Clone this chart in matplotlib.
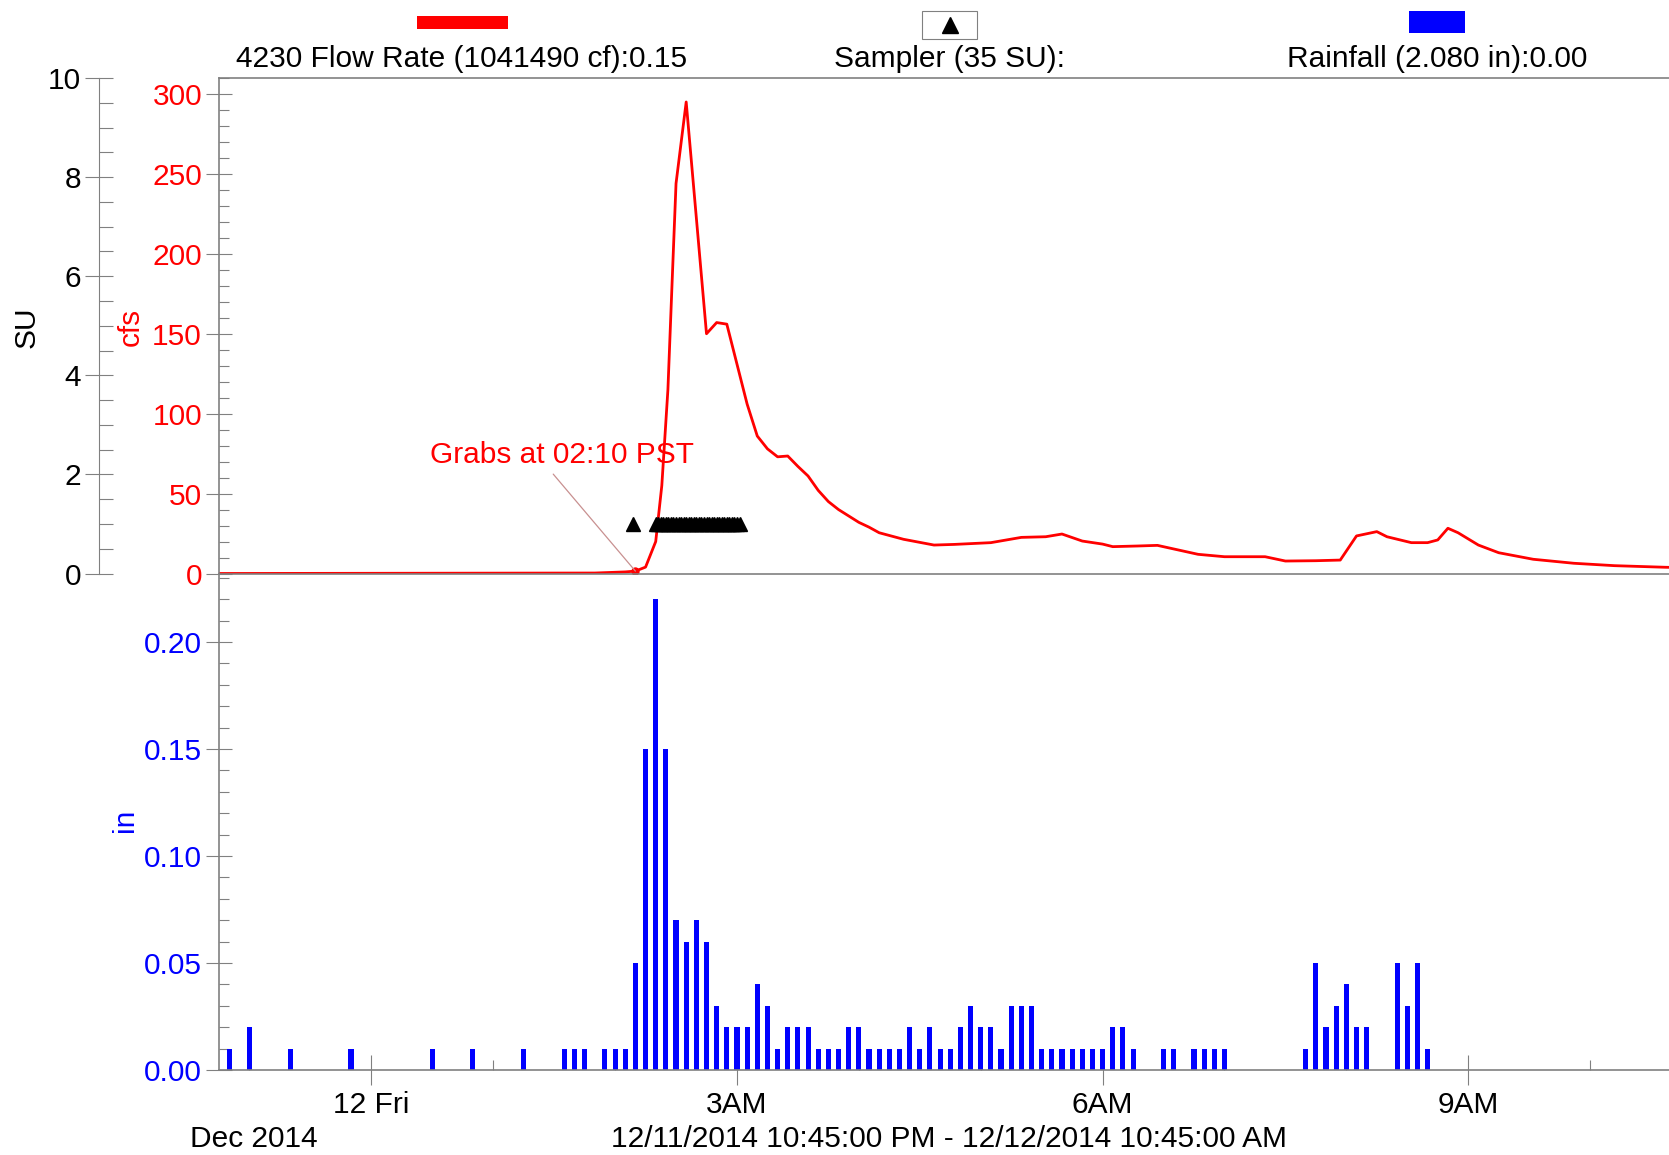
import numpy as np
import pandas as pd
import matplotlib
matplotlib.use("Agg")
from matplotlib import pyplot as plt
import matplotlib.dates as mdates
from matplotlib.patches import Rectangle
from matplotlib.lines import Line2D
from matplotlib.ticker import MultipleLocator

plt.rcParams['font.family'] = ['Liberation Sans', 'DejaVu Sans']

# 4230 flow rate (cfs)
flow_clock = ["22:45", "01:50", "02:05", "02:10", "02:15", "02:20", "02:23", "02:26", "02:28",
              "02:30", "02:35", "02:45", "02:50", "02:55", "03:00", "03:05", "03:10", "03:15",
              "03:20", "03:25", "03:30", "03:35", "03:40", "03:45", "03:50", "03:55", "04:00",
              "04:05", "04:10", "04:22", "04:37",
              "04:47", "05:05", "05:20", "05:32", "05:40", "05:50", "06:00", "06:05", "06:17",
              "06:27", "06:47", "07:00", "07:20", "07:30", "07:45", "07:57", "08:05", "08:15",
              "08:20", "08:32", "08:40", "08:45", "08:50", "08:55", "09:05", "09:15", "09:32",
              "09:52", "10:12", "10:37", "10:45"]
flow_cfs = [0, 0.3, 1, 1.5, 4, 20, 55, 115, 180,
            244, 295, 150, 157, 156, 131, 106, 86, 78,
            73, 73.5, 67, 61, 52, 45, 40, 36, 32,
            29, 25.5, 21.4, 17.8,
            18.2, 19.3, 22.6, 23, 24.7, 20.3, 18.4, 16.8, 17.2,
            17.6, 12, 10.5, 10.5, 7.8, 8, 8.4, 23.5, 26.2,
            23, 19.3, 19.3, 21, 28.3, 25.5, 17.8, 13, 8.9,
            6.4, 4.9, 3.9, 3.7]

# rainfall per 5 minutes (in), only the non-zero intervals
rain_clock = ["22:50", "23:00", "23:20", "23:50", "00:30", "00:50", "01:15", "01:35", "01:40",
              "01:45", "01:55", "02:00", "02:05", "02:10", "02:15", "02:20", "02:25", "02:30",
              "02:35", "02:40", "02:45", "02:50", "02:55", "03:00", "03:05", "03:10", "03:15",
              "03:20", "03:25", "03:30", "03:35", "03:40", "03:45", "03:50", "03:55", "04:00",
              "04:05", "04:10", "04:15", "04:20", "04:25", "04:30", "04:35", "04:40", "04:45",
              "04:50", "04:55", "05:00", "05:05", "05:10", "05:15", "05:20", "05:25", "05:30",
              "05:35", "05:40", "05:45", "05:50", "05:55", "06:00", "06:05", "06:10", "06:15",
              "06:30", "06:35", "06:45", "06:50", "06:55", "07:00", "07:40", "07:45", "07:50",
              "07:55", "08:00", "08:05", "08:10", "08:25", "08:30", "08:35", "08:40"]
rain_in = [0.01, 0.02, 0.01, 0.01, 0.01, 0.01, 0.01, 0.01, 0.01,
           0.01, 0.01, 0.01, 0.01, 0.05, 0.15, 0.22, 0.15, 0.07,
           0.06, 0.07, 0.06, 0.03, 0.02, 0.02, 0.02, 0.04, 0.03,
           0.01, 0.02, 0.02, 0.02, 0.01, 0.01, 0.01, 0.02, 0.02,
           0.01, 0.01, 0.01, 0.01, 0.02, 0.01, 0.02, 0.01, 0.01,
           0.02, 0.03, 0.02, 0.02, 0.01, 0.03, 0.03, 0.03, 0.01,
           0.01, 0.01, 0.01, 0.01, 0.01, 0.01, 0.02, 0.02, 0.01,
           0.01, 0.01, 0.01, 0.01, 0.01, 0.01, 0.01, 0.05, 0.02,
           0.03, 0.04, 0.02, 0.02, 0.05, 0.03, 0.05, 0.01]

# sampler events (1 SU each)
sampler_clock = ["02:09:00", "02:20:00", "02:21:15", "02:22:30", "02:23:45", "02:25:00",
                 "02:26:15", "02:27:30", "02:28:45", "02:30:00", "02:31:15", "02:32:30",
                 "02:33:45", "02:35:00", "02:36:15", "02:37:30", "02:38:45", "02:40:00",
                 "02:41:15", "02:42:30", "02:43:45", "02:45:00", "02:46:15", "02:47:30",
                 "02:48:45", "02:50:00", "02:51:15", "02:52:30", "02:53:45", "02:55:00",
                 "02:56:15", "02:57:30", "02:58:45", "03:00:00", "03:01:15"]
sampler_su = [1] * len(sampler_clock)

grab_clock = "02:10"
grab_cfs = 1.5


def to_time(clock):
    day = "2014-12-11" if clock >= "22" else "2014-12-12"
    return pd.Timestamp(day + " " + clock)


def hour_label(x, pos=None):
    d = mdates.num2date(x)
    if d.hour == 0:
        return "%d %s" % (d.day, d.strftime("%a"))
    return "%d%s" % (d.hour % 12 or 12, "AM" if d.hour < 12 else "PM")


flow_t = [to_time(c) for c in flow_clock]
rain_t = [to_time(c) for c in rain_clock]
sampler_t = [to_time(c) for c in sampler_clock]
t_start = pd.Timestamp("2014-12-11 22:45")
t_end = pd.Timestamp("2014-12-12 10:45")

W, H = 1669, 1155
RED = "#ff0000"
BLUE = "#0000ff"
GRAY = "#808080"
FS = 21.5


def fx(px):
    return px / W


def fy(py):
    return 1 - py / H


fig = plt.figure(figsize=(W / 100, H / 100), dpi=100)
ax_flow = fig.add_axes([fx(219), fy(573.5), fx(1681.5 - 219), (573.5 - 78) / H])
ax_rain = fig.add_axes([fx(219), fy(1070), fx(1681.5 - 219), (1070 - 573.5) / H], sharex=ax_flow)
ax_rain.patch.set_visible(False)
ax_su = ax_flow.twinx()

# flow
ax_flow.plot(flow_t, flow_cfs, color=RED, lw=2.0)
ax_flow.plot([to_time(grab_clock)], [grab_cfs], "o", color=RED, ms=5)
ax_flow.annotate("Grabs at 02:10 PST", xy=(to_time(grab_clock), grab_cfs),
                 xytext=(to_time("01:34"), 74), color=RED, fontsize=FS,
                 ha="center", va="center",
                 arrowprops=dict(arrowstyle="-", color="#c89090", lw=0.9,
                                 relpos=(0.45, 0.0), shrinkA=2, shrinkB=0))
ax_flow.set_ylim(0, 310)
ax_flow.set_xlim(t_start, t_end)
ax_flow.yaxis.set_major_locator(MultipleLocator(50))
ax_flow.yaxis.set_minor_locator(MultipleLocator(10))
ax_flow.tick_params(axis="x", which="both", bottom=False, labelbottom=False)
ax_flow.tick_params(axis="y", which="major", direction="inout", length=18.5, width=0.8,
                    color=GRAY, labelcolor=RED, labelsize=FS, pad=3)
ax_flow.tick_params(axis="y", which="minor", direction="in", length=7.5, width=0.8, color=GRAY)
ax_flow.spines["right"].set_visible(False)
for s in ["left", "top", "bottom"]:
    ax_flow.spines[s].set_color(GRAY)
    ax_flow.spines[s].set_linewidth(1.2)

# sampler on its own axis, spine moved to the far left
ax_su.plot(sampler_t, sampler_su, "^", color="black", ms=10, ls="none")
ax_su.set_ylim(0, 10)
ax_su.yaxis.tick_left()
ax_su.spines["left"].set_visible(True)
ax_su.spines["left"].set_position(("axes", (99 - 219) / (1681.5 - 219)))
ax_su.spines["left"].set_color(GRAY)
for s in ["right", "top", "bottom"]:
    ax_su.spines[s].set_visible(False)
ax_su.yaxis.set_major_locator(MultipleLocator(2))
ax_su.yaxis.set_minor_locator(MultipleLocator(0.5))
ax_su.tick_params(axis="y", which="major", direction="inout", length=20, width=0.8,
                  color=GRAY, labelcolor="black", labelsize=FS, pad=3)
ax_su.tick_params(axis="y", which="minor", direction="in", length=10, width=0.8, color=GRAY)

# rainfall
bar_w = pd.Timedelta(minutes=2.5)
ax_rain.bar(rain_t, rain_in, width=bar_w, color=BLUE)
ax_rain.set_axisbelow(True)
ax_rain.set_ylim(0, 0.232)
ax_rain.yaxis.set_major_locator(MultipleLocator(0.05))
ax_rain.yaxis.set_minor_locator(MultipleLocator(0.01))
ax_rain.yaxis.set_major_formatter(plt.FuncFormatter(lambda v, p: "%.2f" % v))
ax_rain.tick_params(axis="y", which="major", direction="inout", length=18.5, width=0.8,
                    color=GRAY, labelcolor=BLUE, labelsize=FS, pad=3)
ax_rain.tick_params(axis="y", which="minor", direction="in", length=7.5, width=0.8, color=GRAY)
ax_rain.xaxis.set_major_locator(mdates.HourLocator(byhour=[0, 3, 6, 9]))
ax_rain.xaxis.set_minor_locator(mdates.HourLocator())
ax_rain.xaxis.set_major_formatter(plt.FuncFormatter(hour_label))
ax_rain.tick_params(axis="x", which="major", direction="inout", length=22, width=0.8,
                    color=GRAY, labelcolor="black", labelsize=FS, pad=4)
ax_rain.tick_params(axis="x", which="minor", direction="in", length=7.5, width=0.8, color=GRAY)
for s in ["right", "top"]:
    ax_rain.spines[s].set_visible(False)
for s in ["left", "bottom"]:
    ax_rain.spines[s].set_color(GRAY)
    ax_rain.spines[s].set_linewidth(1.2)

# axis titles
fig.text(fx(27), fy(327), "SU", rotation=90, ha="center", va="center", fontsize=FS, color="black")
fig.text(fx(131), fy(327), "cfs", rotation=90, ha="center", va="center", fontsize=FS, color=RED)
fig.text(fx(125), fy(820), "in", rotation=90, ha="center", va="center", fontsize=FS, color=BLUE)

# legend strip along the top
fig.patches.append(Rectangle((fx(417), fy(29)), fx(91), 13 / H, transform=fig.transFigure,
                             facecolor=RED, edgecolor="none"))
fig.patches.append(Rectangle((fx(922), fy(39)), fx(55), 28 / H, transform=fig.transFigure,
                             facecolor="white", edgecolor=GRAY, lw=0.8))
fig.add_artist(Line2D([fx(949.5)], [fy(25)], marker="^", color="black", ms=12, ls="none",
                      transform=fig.transFigure))
fig.patches.append(Rectangle((fx(1409), fy(33)), fx(56), 22 / H, transform=fig.transFigure,
                             facecolor=BLUE, edgecolor="none"))
fig.text(fx(462), fy(59), "4230 Flow Rate (1041490 cf):0.15", ha="center", va="center", fontsize=FS)
fig.text(fx(949), fy(59), "Sampler (35 SU):", ha="center", va="center", fontsize=FS)
fig.text(fx(1437), fy(59), "Rainfall (2.080 in):0.00", ha="center", va="center", fontsize=FS)

# date captions under the time axis
fig.text(fx(254), fy(1139), "Dec 2014", ha="center", va="center", fontsize=FS)
fig.text(fx(949), fy(1139), "12/11/2014 10:45:00 PM - 12/12/2014 10:45:00 AM",
         ha="center", va="center", fontsize=FS)

fig.savefig("out.png", dpi=100)
